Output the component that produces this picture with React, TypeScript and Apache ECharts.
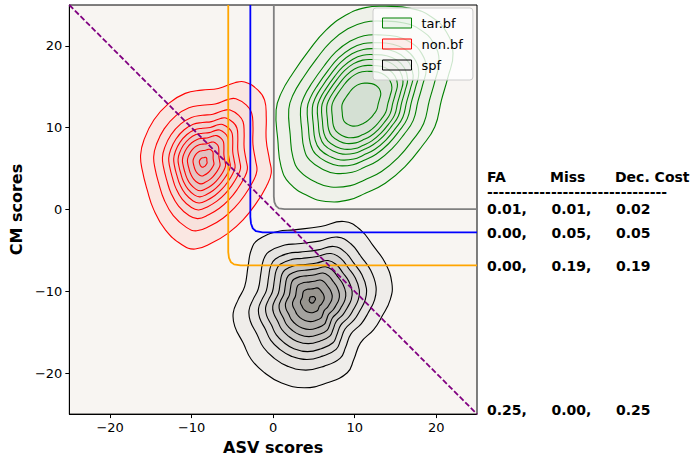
import React, { useEffect, useRef } from 'react';
import * as echarts from 'echarts';

// ---------- data ----------
const xTicks = [-20, -10, 0, 10, 20];
const yTicks = [-20, -10, 0, 10, 20];
const legendNames = ['tar.bf', 'non.bf', 'spf'];

// tar.bf (green) KDE contours: centre, outermost contour, relative size of each contour level
const tarCenter = [10.7, 12.8];
const tarOuter = [
  [0.36, 12.16], [0.57, 8.5], [0.97, 5.25], [1.99, 3.22], [4.42, 1.59], [6.45, 0.98],
  [9.28, 1.18], [11.31, 2.0], [13.75, 3.22], [16.18, 5.25], [18.21, 7.68], [19.83, 10.12],
  [20.64, 13.38], [21.45, 16.22], [22.06, 19.07], [21.25, 21.7], [19.43, 23.54], [17.0, 24.56],
  [13.75, 24.84], [11.31, 24.68], [8.88, 23.74], [6.45, 21.9], [4.42, 19.48], [2.39, 16.63],
  [0.97, 14.2],
];
const tarLevels = [1, 0.85, 0.71, 0.63, 0.57, 0.51, 0.46, 0.4, 0.34, 0.22];

// non.bf (red)
const nonCenter = [-8.6, 5.8];
const nonOuter = [
  [-16.26, 6.67], [-15.85, 8.5], [-14.64, 10.94], [-12.81, 12.98], [-10.79, 14.2], [-8.76, 14.6],
  [-6.73, 14.8], [-4.7, 15.5], [-3.49, 15.6], [-1.86, 14.6], [-1.05, 13.38], [-0.85, 11.34],
  [-0.85, 8.5], [-0.45, 6.06], [-0.24, 4.44], [-0.85, 2.8], [-2.07, 0.78], [-3.69, -1.26],
  [-5.51, -2.88], [-7.54, -4.1], [-9.57, -4.83], [-11.19, -4.3], [-13.22, -2.48], [-14.64, -0.04],
  [-15.45, 2.4], [-16.06, 4.84],
];
const nonLevels = [1, 0.79, 0.65, 0.55, 0.47, 0.4, 0.33, 0.25, 0.16, 0.06];

// spf (black)
const spfCenter = [4.8, -11.0];
const spfOuter = [
  [-1.86, -3.7], [0.57, -2.68], [2.59, -2.48], [5.84, -2.07], [8.67, -1.46], [10.71, -2.48],
  [12.33, -4.51], [13.75, -6.54], [14.56, -8.98], [14.36, -11.01], [13.35, -13.05], [12.33, -14.67],
  [10.71, -16.29], [9.89, -18.33], [9.09, -19.95], [6.65, -21.17], [3.81, -21.78], [0.97, -21.17],
  [-1.06, -19.95], [-2.68, -18.33], [-3.69, -16.29], [-4.71, -14.27], [-4.9, -12.63], [-4.29, -11.01],
  [-3.49, -9.39], [-3.08, -6.95], [-2.68, -4.91],
];
const spfLevels = [1, 0.8, 0.68, 0.59, 0.5, 0.42, 0.34, 0.25, 0.15, 0.04];

// decision thresholds
const grayThreshold = [[0.08, 25], [0.08, 1.6], [0.15, 0.9], [0.35, 0.45], [0.7, 0.15], [1.4, 0.05], [25, 0.05]];
const blueThreshold = [[-2.8, 25], [-2.8, -0.9], [-2.72, -1.7], [-2.5, -2.3], [-2.1, -2.65], [-1.3, -2.8], [25, -2.8]];
const orangeThreshold = [[-5.51, 25], [-5.51, -5.2], [-5.42, -5.9], [-5.2, -6.4], [-4.8, -6.7], [-4.0, -6.83], [25, -6.83]];
const diagonal = [[-25, 25], [25, -25]];

// table
const tableHeader = ['FA', 'Miss', 'Dec. Cost'];
const faValues = ['0.01,', '0.00,', '0.00,', '0.25,'];
const missValues = ['0.01,', '0.05,', '0.19,', '0.00,'];
const costValues = ['0.02', '0.05', '0.19', '0.25'];

// ---------- styles ----------
const FONT = '"DejaVu Sans", sans-serif';
const greenFills = ['#eff1ea', '#ecefe7', '#e9ede5', '#e6ebe2', '#e3e9e0', '#e1e7dd', '#dee5db', '#dbe4d8', '#d8e2d6', '#d4e0d3'];
const redFills = ['#fae7e2', '#f8e1dc', '#f5dbd6', '#f2d5d1', '#efd0cc', '#ebcbc8', '#e8c6c4', '#e5c3c2', '#e2c0c0', '#ddbdbd'];
const blackFills = ['#efedea', '#e6e4e1', '#dddbd8', '#d3d1ce', '#c8c6c3', '#bcbab7', '#b0aeab', '#a4a29f', '#98958f', '#8e8b88'];

function contourSeries(name: string, center: number[], outer: number[][], levels: number[], fills: string[], stroke: string) {
  return {
    type: 'custom',
    name,
    coordinateSystem: 'cartesian2d',
    silent: true,
    clip: true,
    itemStyle: { color: stroke },
    data: levels.map(() => [0, 0]),
    renderItem: (params: any, api: any) => {
      const f = levels[params.dataIndex];
      const pts = outer.map(([x, y]) =>
        api.coord([center[0] + f * (x - center[0]), center[1] + f * (y - center[1])])
      );
      return {
        type: 'polygon',
        shape: { points: pts, smooth: 0.45 },
        style: { fill: fills[params.dataIndex], stroke, lineWidth: 1.1 },
      };
    },
  };
}

function thresholdSeries(data: number[][], color: string, width: number, type: any = 'solid') {
  return {
    type: 'line',
    data,
    showSymbol: false,
    symbol: 'none',
    silent: true,
    lineStyle: { color, width, type },
    z: 5,
  };
}

function tableText(text: string, x: number, y: number) {
  return {
    type: 'text',
    x,
    y,
    style: { text, font: `bold 14px ${FONT}`, fill: '#000', textVerticalAlign: 'middle', textAlign: 'left' },
  };
}

function buildOption() {
  const minus = (v: number) => (v < 0 ? '\u2212' + Math.abs(v) : String(v));
  const colX = [487, 551.5, 616];
  const rowY = [209, 232.5, 265.5, 410];
  const graphics: any[] = [];
  graphics.push(tableText(tableHeader[0], 487, 177));
  graphics.push(tableText(tableHeader[1], 550, 177));
  graphics.push(tableText(tableHeader[2], 615, 177));
  graphics.push(tableText('-------------------------------', 487, 192));
  rowY.forEach((y, i) => {
    graphics.push(tableText(faValues[i], colX[0], y));
    graphics.push(tableText(missValues[i], colX[1], y));
    graphics.push(tableText(costValues[i], colX[2], y));
  });

  return {
    animation: false,
    textStyle: { fontFamily: FONT },
    grid: {
      left: 66, top: 5, width: 411, height: 410,
      show: true, backgroundColor: '#f8f5f2', borderColor: '#000', borderWidth: 1,
    },
    legend: {
      orient: 'vertical',
      left: 373,
      top: 8,
      padding: [8, 10, 8, 9],
      itemWidth: 29,
      itemHeight: 10,
      itemGap: 7,
      backgroundColor: 'rgba(255,255,255,0.8)',
      borderColor: '#cccccc',
      borderWidth: 1,
      borderRadius: 3,
      textStyle: { fontSize: 13, color: '#000', fontFamily: FONT, lineHeight: 14, padding: [0, 0, 0, 5] },
      data: [
        { name: legendNames[0], icon: 'rect', itemStyle: { color: 'rgba(0,128,0,0.06)', borderColor: '#008000', borderWidth: 1 } },
        { name: legendNames[1], icon: 'rect', itemStyle: { color: 'rgba(255,0,0,0.06)', borderColor: '#ff0000', borderWidth: 1 } },
        { name: legendNames[2], icon: 'rect', itemStyle: { color: 'rgba(0,0,0,0.04)', borderColor: '#000000', borderWidth: 1 } },
      ],
    },
    xAxis: {
      type: 'value', min: -25, max: 25,
      axisLine: { show: true, onZero: false, lineStyle: { color: '#000', width: 1 } },
      axisTick: { show: true, customValues: xTicks, length: 4, lineStyle: { color: '#000' } },
      axisLabel: { customValues: xTicks, formatter: minus, fontSize: 13, color: '#000', margin: 7, fontFamily: FONT },
      splitLine: { show: false },
      name: 'ASV scores', nameLocation: 'middle', nameGap: 24,
      nameTextStyle: { fontWeight: 'bold', fontSize: 16, color: '#000', fontFamily: FONT },
    },
    yAxis: {
      type: 'value', min: -25, max: 25,
      axisLine: { show: true, onZero: false, lineStyle: { color: '#000', width: 1 } },
      axisTick: { show: true, customValues: yTicks, length: 4, lineStyle: { color: '#000' } },
      axisLabel: { customValues: yTicks, formatter: minus, fontSize: 13, color: '#000', margin: 7, fontFamily: FONT },
      splitLine: { show: false },
      name: 'CM scores', nameLocation: 'middle', nameGap: 43,
      nameTextStyle: { fontWeight: 'bold', fontSize: 16, color: '#000', fontFamily: FONT },
    },
    graphic: graphics,
    series: [
      contourSeries(legendNames[2], spfCenter, spfOuter, spfLevels, blackFills, '#000000'),
      contourSeries(legendNames[1], nonCenter, nonOuter, nonLevels, redFills, '#ff0000'),
      contourSeries(legendNames[0], tarCenter, tarOuter, tarLevels, greenFills, '#008000'),
      thresholdSeries(grayThreshold, '#808080', 1.8),
      thresholdSeries(blueThreshold, '#0000ff', 1.8),
      thresholdSeries(orangeThreshold, '#ffa500', 1.8),
      { ...thresholdSeries(diagonal, '#800080', 1.8, [5.5, 2.4]), z: 6 },
    ],
  };
}

export default function App() {
  const ref = useRef<HTMLDivElement>(null);
  useEffect(() => {
    if (!ref.current) return;
    const chart = echarts.init(ref.current, null, { renderer: 'svg' });
    chart.setOption(buildOption() as any);
    return () => chart.dispose();
  }, []);
  return <div ref={ref} style={{ position: 'fixed', left: 0, top: 0, width: 690, height: 460, background: '#fff' }} />;
}
